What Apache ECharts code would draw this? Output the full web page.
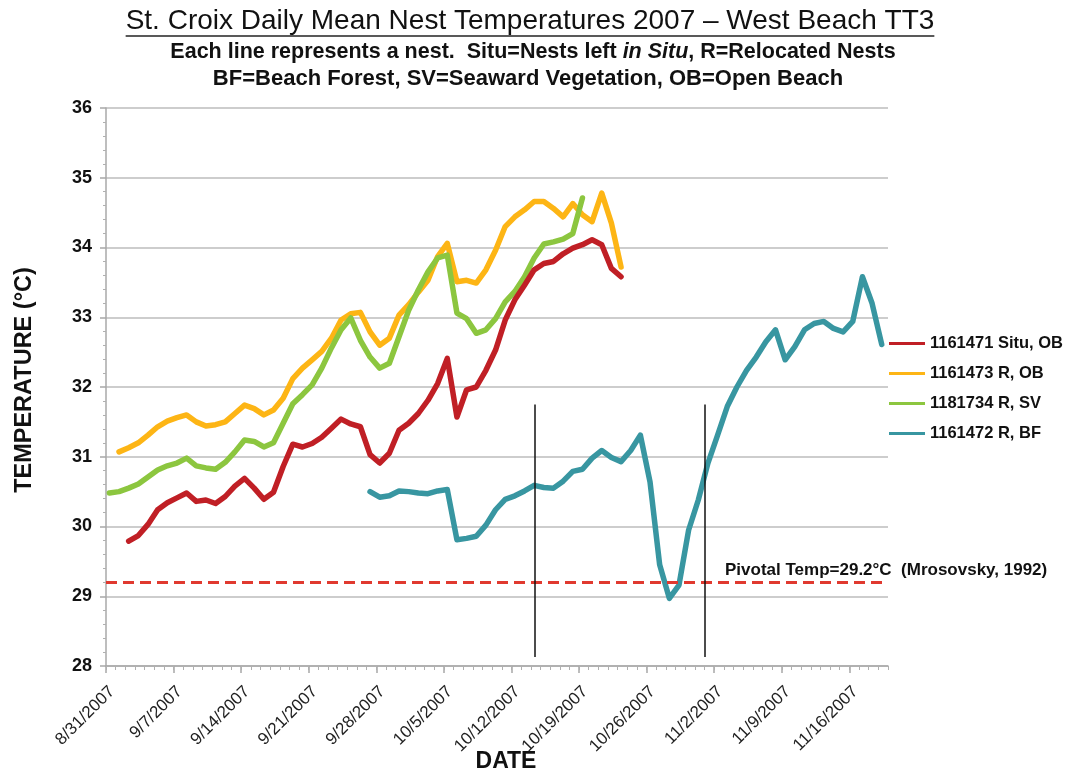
<!DOCTYPE html>
<html><head><meta charset="utf-8">
<script src="https://cdn.jsdelivr.net/npm/echarts@6/dist/echarts.min.js"></script>
<style>html,body{margin:0;padding:0;background:#fff}#c{width:1072px;height:775px}</style>
</head><body><div id="c"></div>
<script>
// ---- data ----
const tickLabels = ['8/31/2007','9/7/2007','9/14/2007','9/21/2007','9/28/2007','10/5/2007','10/12/2007','10/19/2007','10/26/2007','11/2/2007','11/9/2007','11/16/2007'];
const seriesNames = ['1161471 Situ, OB','1161473 R, OB','1181734 R, SV','1161472 R, BF'];
// first day of each series, counted in days from 8/31/2007
const startDays = [2, 1, 0, 27];
const situOB = [29.79,29.87,30.03,30.24,30.34,30.41,30.48,30.36,30.38,30.33,
  30.43,30.58,30.69,30.55,30.39,30.49,30.86,31.18,31.14,31.19,
  31.28,31.41,31.54,31.47,31.43,31.03,30.91,31.05,31.38,31.48,
  31.62,31.81,32.05,32.41,31.57,31.96,32.00,32.24,32.53,32.96,
  33.25,33.46,33.68,33.77,33.80,33.91,33.99,34.04,34.11,34.04,
  33.70,33.58];
const relocOB = [31.07,31.13,31.20,31.31,31.43,31.51,31.56,31.60,31.50,31.44,
  31.46,31.50,31.62,31.74,31.69,31.60,31.67,31.84,32.12,32.27,
  32.39,32.51,32.70,32.96,33.05,33.07,32.79,32.60,32.70,33.03,
  33.18,33.36,33.53,33.87,34.06,33.51,33.53,33.49,33.68,33.96,
  34.30,34.44,34.54,34.66,34.66,34.56,34.44,34.63,34.47,34.37,
  34.78,34.35,33.72];
const relocSV = [30.48,30.50,30.55,30.61,30.71,30.81,30.87,30.91,30.98,30.87,
  30.84,30.82,30.92,31.07,31.24,31.22,31.14,31.20,31.48,31.76,
  31.89,32.03,32.27,32.56,32.82,32.99,32.67,32.43,32.27,32.34,
  32.72,33.10,33.39,33.65,33.85,33.89,33.06,32.98,32.77,32.82,
  32.98,33.22,33.37,33.58,33.85,34.05,34.08,34.12,34.20,34.71];
const relocBF = [30.50,30.42,30.44,30.51,30.50,30.48,30.47,30.51,30.53,29.81,
  29.83,29.86,30.02,30.24,30.39,30.44,30.51,30.59,30.56,30.55,
  30.65,30.79,30.82,30.98,31.09,30.99,30.93,31.09,31.31,30.64,
  29.45,28.97,29.16,29.95,30.38,30.91,31.31,31.72,32.00,32.24,
  32.43,32.65,32.82,32.39,32.58,32.82,32.91,32.94,32.84,32.79,
  32.94,33.58,33.20,32.61];
const pivotalTemp = 29.2;
const markerDays = [44.45, 61.98];   // vertical markers (days from 8/31/2007)
const markerRange = [28.13, 31.75];  // their temperature extent
const axisDays = 81;                 // 8/31/2007 .. 11/20/2007

// ---- styling ----
const colors = ['#c01f25', '#fdb515', '#8cc63f', '#3896a1'];
const FONT = '"Liberation Sans", Arial, sans-serif';
const pointOffset = 0.35;
const seriesValues = [situOB, relocOB, relocSV, relocBF];
const toData = (start, vals) => vals.map((v, i) => [start + i + pointOffset, v]);
const majorTicks = tickLabels.map((_, i) => i * 7);

const series = seriesValues.map((vals, k) => ({
  name: seriesNames[k], type: 'line', xAxisIndex: 0, yAxisIndex: 0,
  data: toData(startDays[k], vals), showSymbol: false, symbol: 'none',
  lineStyle: { color: colors[k], width: 5.5, cap: 'round', join: 'round' },
  itemStyle: { color: colors[k] }, z: 3 + (k === 0 ? 1 : 0), silent: true
}));
series[0].markLine = {
  silent: true, symbol: 'none', animation: false, label: { show: false },
  data: [
    { yAxis: pivotalTemp, lineStyle: { color: '#e0392f', width: 3, type: [11, 6] } },
    ...markerDays.map(d => [{ coord: [d, markerRange[0]] }, { coord: [d, markerRange[1]] }].map(p => Object.assign(p, { lineStyle: { color: '#111', width: 1.5, type: 'solid' } })))
  ]
};

// measure title for underline
const titleText = 'St. Croix Daily Mean Nest Temperatures 2007 \u2013 West Beach TT3';
const titleFont = '28px ' + FONT;
const ctx = document.createElement('canvas').getContext('2d');
ctx.font = titleFont;
const titleW = ctx.measureText(titleText).width;
const titleCX = 530;

const option = {
  animation: false,
  backgroundColor: '#fff',
  grid: { left: 106, right: 184, top: 108, bottom: 109, containLabel: false },
  xAxis: [{
    type: 'value', min: 0, max: axisDays,
    axisLine: { show: true, lineStyle: { color: '#a8a8a8', width: 1.5 } },
    axisTick: { show: true, customValues: majorTicks, length: 7, lineStyle: { color: '#a8a8a8', width: 1.5 } },
    axisLabel: { customValues: majorTicks, rotate: 45, margin: 17, verticalAlign: 'top', color: '#222', fontSize: 17, fontFamily: FONT,
      formatter: v => tickLabels[Math.round(v / 7)] || '' },
    splitLine: { show: false }
  }, {
    type: 'value', min: 0, max: axisDays, interval: 1, position: 'bottom',
    axisLine: { show: false }, axisLabel: { show: false }, splitLine: { show: false },
    axisTick: { show: true, length: 4, lineStyle: { color: '#b0b0b0', width: 1 } }
  }],
  yAxis: {
    type: 'value', min: 28, max: 36, interval: 1,
    axisLine: { show: true, lineStyle: { color: '#a8a8a8', width: 1.5 } },
    axisTick: { show: true, length: 6, lineStyle: { color: '#a8a8a8', width: 1.5 } },
    minorTick: { show: true, splitNumber: 5, length: 3, lineStyle: { color: '#b0b0b0', width: 1 } },
    axisLabel: { color: '#111', fontSize: 18, fontWeight: 'bold', fontFamily: FONT, margin: 14 },
    splitLine: { show: true, lineStyle: { color: '#cdcdcd', width: 2 } }
  },
  legend: {
    orient: 'vertical', left: 884, top: 330, icon: 'rect', itemWidth: 36, itemHeight: 3, itemGap: 13,
    data: seriesNames, selectedMode: false,
    textStyle: { color: '#111', fontSize: 16.5, fontWeight: 'bold', fontFamily: FONT, lineHeight: 17 }
  },
  graphic: [
    { type: 'text', x: titleCX, y: 21, style: { text: titleText, font: titleFont, fill: '#111', align: 'center', verticalAlign: 'middle' } },
    { type: 'line', shape: { x1: titleCX - titleW / 2, y1: 36, x2: titleCX + titleW / 2, y2: 36 }, style: { stroke: '#222', lineWidth: 1.5 } },
    { type: 'text', x: 533, y: 52, style: {
      text: '{b|Each line represents a nest.  Situ=Nests left }{bi|in Situ}{b|, R=Relocated Nests}',
      align: 'center', verticalAlign: 'middle',
      rich: { b: { fontSize: 21.5, fontWeight: 'bold', fontFamily: FONT, fill: '#111' },
              bi: { fontSize: 21.5, fontWeight: 'bold', fontStyle: 'italic', fontFamily: FONT, fill: '#111' } } } },
    { type: 'text', x: 528, y: 79, style: { text: 'BF=Beach Forest, SV=Seaward Vegetation, OB=Open Beach', fontSize: 22, fontWeight: 'bold', fontFamily: FONT, fill: '#111', align: 'center', verticalAlign: 'middle' } },
    { type: 'text', x: 25, y: 380, rotation: Math.PI / 2, style: { text: 'TEMPERATURE (\u00b0C)', fontSize: 23.5, fontWeight: 'bold', fontFamily: FONT, fill: '#111', align: 'center', verticalAlign: 'middle' } },
    { type: 'text', x: 506, y: 762, style: { text: 'DATE', fontSize: 23, fontWeight: 'bold', fontFamily: FONT, fill: '#111', align: 'center', verticalAlign: 'middle' } },
    { type: 'text', x: 725, y: 570, style: { text: 'Pivotal Temp=29.2\u00b0C  (Mrosovsky, 1992)', fontSize: 17, fontWeight: 'bold', fontFamily: FONT, fill: '#111', align: 'left', verticalAlign: 'middle' } }
  ],
  series: series
};
const chart = echarts.init(document.getElementById('c'));
chart.setOption(option);
</script>
</body></html>
